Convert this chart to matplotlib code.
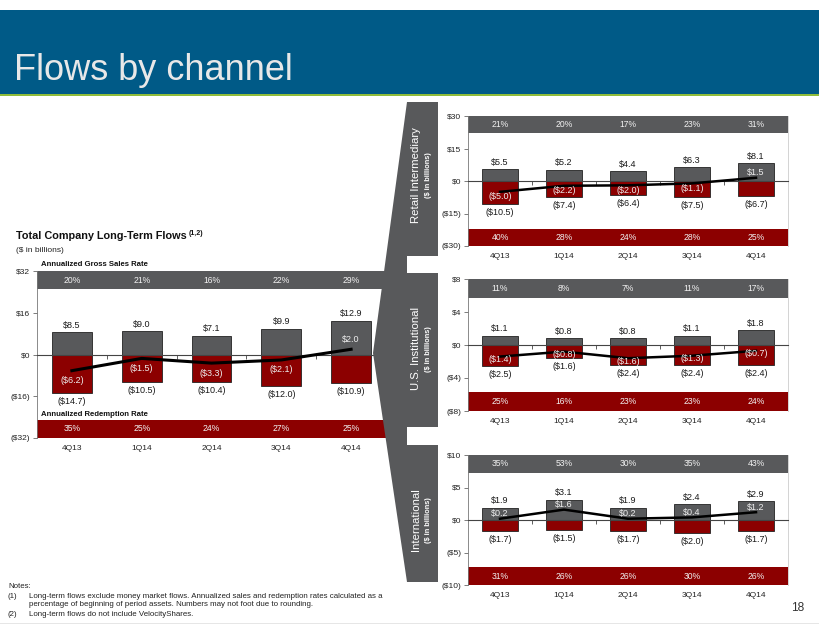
import matplotlib
matplotlib.use('Agg')
import matplotlib.pyplot as plt
from matplotlib.patches import Rectangle, Polygon

plt.rcParams['font.family'] = ['Liberation Sans', 'DejaVu Sans']

quarters = ['4Q13', '1Q14', '2Q14', '3Q14', '4Q14']

# Total company long-term flows ($ in billions)
total_gross = [8.5, 9.0, 7.1, 9.9, 12.9]
total_redeem = [-14.7, -10.5, -10.4, -12.0, -10.9]
total_net = [-6.2, -1.5, -3.3, -2.1, 2.0]
total_sales_rate = [20, 21, 16, 22, 29]
total_redeem_rate = [35, 25, 24, 27, 25]

# Retail Intermediary
retail_gross = [5.5, 5.2, 4.4, 6.3, 8.1]
retail_redeem = [-10.5, -7.4, -6.4, -7.5, -6.7]
retail_net = [-5.0, -2.2, -2.0, -1.1, 1.5]
retail_sales_rate = [21, 20, 17, 23, 31]
retail_redeem_rate = [40, 28, 24, 28, 25]

# U.S. Institutional
inst_gross = [1.1, 0.8, 0.8, 1.1, 1.8]
inst_redeem = [-2.5, -1.6, -2.4, -2.4, -2.4]
inst_net = [-1.4, -0.8, -1.6, -1.3, -0.7]
inst_sales_rate = [11, 8, 7, 11, 17]
inst_redeem_rate = [25, 16, 23, 23, 24]

# International
intl_gross = [1.9, 3.1, 1.9, 2.4, 2.9]
intl_redeem = [-1.7, -1.5, -1.7, -2.0, -1.7]
intl_net = [0.2, 1.6, 0.2, 0.4, 1.2]
intl_sales_rate = [35, 53, 30, 35, 43]
intl_redeem_rate = [31, 26, 26, 30, 26]

GRAY = '#58595b'
RED = '#8c0000'
BLUE = '#005a87'

W, H = 820, 635


def money(v, dec=1):
    s = f'${abs(v):.{dec}f}'
    return s if v >= 0 else f'({s})'


def draw_panel(ax, gross, redeem, net, sales_rate, redeem_rate,
               lim, band, step, net_off, lw):
    x = list(range(len(quarters)))
    ax.set_xlim(-0.5, len(quarters) - 0.5)
    ax.set_ylim(-lim, lim)
    ax.axhspan(band, lim, color=GRAY, lw=0, zorder=0)
    ax.axhspan(-lim, -band, color=RED, lw=0, zorder=0)

    ax.bar(x, gross, width=0.57, color=GRAY, edgecolor='#222222', lw=0.6, zorder=2)
    ax.bar(x, redeem, width=0.57, color=RED, edgecolor='#222222', lw=0.6, zorder=2)
    ax.plot(x, net, color='black', lw=lw, zorder=4)

    for i in x:
        ax.annotate(money(gross[i]), (i, gross[i]), xytext=(0, 7),
                    textcoords='offset pixels', ha='center', va='center',
                    fontsize=6.5, color='#1a1a1a')
        ax.annotate(money(redeem[i]), (i, redeem[i]), xytext=(0, -8.5),
                    textcoords='offset pixels', ha='center', va='center',
                    fontsize=6.5, color='#1a1a1a')
        off = net_off if net[i] > 0 else -net_off
        ax.annotate(money(net[i]), (i, net[i]), xytext=(0, off),
                    textcoords='offset pixels', ha='center', va='center',
                    fontsize=6.5, color='#eeeeee', zorder=5)
        ax.text(i, (band + lim) / 2, f'{sales_rate[i]}%', color='#f2f2f2',
                ha='center', va='center', fontsize=6.2)
        ax.text(i, -(band + lim) / 2, f'{redeem_rate[i]}%', color='#f2f2f2',
                ha='center', va='center', fontsize=6.2)

    ticks = [-lim, -step, 0, step, lim]
    ax.set_yticks(ticks, [money(t, 0) for t in ticks])
    ax.tick_params(axis='y', labelsize=6, length=3, width=0.6,
                   color='#666666', labelcolor='#222222', pad=2)
    ax.set_xticks(x, quarters)
    ax.tick_params(axis='x', length=0, pad=4.8, labelsize=6, labelcolor='#222222')
    for s in ['top', 'bottom']:
        ax.spines[s].set_visible(False)
    ax.spines['left'].set_color('#777777')
    ax.spines['left'].set_linewidth(0.6)
    ax.spines['right'].set_color('#cccccc')
    ax.spines['right'].set_linewidth(0.6)

    # zero line with small ticks between quarters
    zero = ax.secondary_xaxis(0.4999)
    zero.set_xticks([i + 0.5 for i in x[:-1]])
    zero.tick_params(length=3, width=0.6, color='#444444', labelbottom=False)
    zero.spines['bottom'].set_color('#444444')
    zero.spines['bottom'].set_linewidth(0.8)
    zero.set_zorder(3)


def frac(x0, y0, x1, y1):
    return [x0 / W, 1 - y1 / H, (x1 - x0) / W, (y1 - y0) / H]


fig = plt.figure(figsize=(W / 100, H / 100), dpi=100)

ax_total = fig.add_axes(frac(37, 271, 386, 438))
draw_panel(ax_total, total_gross, total_redeem, total_net, total_sales_rate,
           total_redeem_rate, 32, 25, 16, 10, 2.2)

ax_retail = fig.add_axes(frac(468, 116, 788, 246))
draw_panel(ax_retail, retail_gross, retail_redeem, retail_net, retail_sales_rate,
           retail_redeem_rate, 30, 22, 15, 5, 1.8)

ax_inst = fig.add_axes(frac(468, 279, 788, 411))
draw_panel(ax_inst, inst_gross, inst_redeem, inst_net, inst_sales_rate,
           inst_redeem_rate, 8, 5.7, 4, 3, 1.8)

ax_intl = fig.add_axes(frac(468, 455, 788, 585))
draw_panel(ax_intl, intl_gross, intl_redeem, intl_net, intl_sales_rate,
           intl_redeem_rate, 10, 7.3, 5, 5, 1.8)

# overlay in pixel coordinates for the slide decoration
ov = fig.add_axes([0, 0, 1, 1], zorder=10)
ov.set_xlim(0, W)
ov.set_ylim(H, 0)
ov.axis('off')
ov.patch.set_alpha(0)

ov.add_patch(Rectangle((0, 10), W, 84, color=BLUE, lw=0))
ov.add_patch(Rectangle((0, 94), W, 1.6, color='#8fbc3a', lw=0))
ov.text(14, 80, 'Flows by channel', fontsize=26, color='#e8e8e8', va='baseline')

# connector bracket
ov.add_patch(Polygon([(407, 102), (438, 102), (438, 582), (407, 582), (373, 353)],
                     closed=True, color=GRAY, lw=0))
ov.add_patch(Rectangle((407, 256), 34, 17, color='white', lw=0))
ov.add_patch(Rectangle((407, 427), 34, 18, color='white', lw=0))

for label, yc in [('Retail Intermediary', 175), ('U.S. Institutional', 349),
                  ('International', 520)]:
    ov.text(416, yc, label, rotation=90, color='white', fontsize=8.2,
            ha='center', va='center')
    ov.text(429, yc, '($ in billions)', rotation=90, color='white', fontsize=5.3,
            fontweight='bold', ha='center', va='center')

t = ov.text(16, 239, 'Total Company Long-Term Flows', fontsize=7.8,
            fontweight='bold', color='#111111', va='baseline')
fig.canvas.draw()
bb = t.get_window_extent()
ov.text(bb.x1 + 2, 235, '(1,2)', fontsize=5, fontweight='bold',
        color='#111111', va='baseline')
ov.text(16, 250, '($ in billions)', fontsize=6, color='#222222', va='center')
ov.text(41, 264, 'Annualized Gross Sales Rate', fontsize=5.6, fontweight='bold',
        color='#111111', va='center')
ov.text(41, 414, 'Annualized Redemption Rate', fontsize=5.6, fontweight='bold',
        color='#111111', va='center')

notes = [
    (587, '', 'Notes:'),
    (596, '(1)', 'Long-term flows exclude money market flows. Annualized sales and '
                 'redemption rates calculated as a'),
    (605, '', 'percentage of beginning of period assets. Numbers may not foot due to rounding.'),
    (614, '(2)', 'Long-term flows do not include VelocityShares.'),
]
for y, num, txt in notes:
    if num:
        ov.text(8, y, num, fontsize=5.7, color='#222222', va='center')
        ov.text(29, y, txt, fontsize=5.7, color='#222222', va='center')
    else:
        ov.text(8 if txt == 'Notes:' else 29, y, txt, fontsize=5.7,
                color='#222222', va='center')

ov.text(798, 608, '18', fontsize=8.6, color='#333333', ha='center', va='center')
ov.add_patch(Rectangle((0, 623), W, 1, color='#e6e6e6', lw=0))

fig.savefig('out.png', dpi=100)
